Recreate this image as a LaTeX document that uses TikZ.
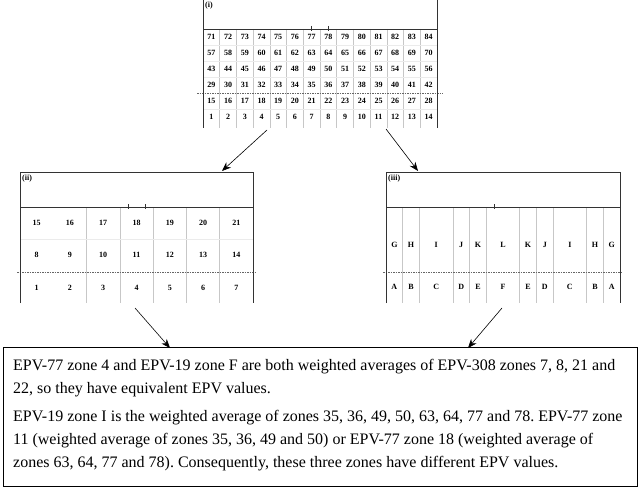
\documentclass[tikz,border=0pt]{standalone}
\usepackage{fontspec}
\setmainfont{Liberation Serif}
\usetikzlibrary{arrows.meta}
\begin{document}
\frenchspacing
\begin{tikzpicture}[x=1pt,y=-1pt,
  border/.style={draw=black!80,line width=0.8pt},
  gridline/.style={draw=black!22,line width=0.7pt},
  rowline/.style={draw=black!8,line width=0.5pt},
  halfway/.style={draw=black!60,line width=0.6pt,dash pattern=on 1.5pt off 1pt},
  cell/.style={font=\bfseries\fontsize{8}{9}\selectfont,inner sep=0pt},
  panellabel/.style={font=\bfseries\fontsize{8}{9}\selectfont,inner sep=0pt,anchor=west},
  arr/.style={-{Stealth[length=9pt,width=7pt]},line width=0.6pt},
  tickmark/.style={draw=black!80,line width=0.6pt}]
\useasboundingbox (0,0) rectangle (640,487);
% ---------- panel (i)
\foreach \k in {1,...,13} \draw[gridline] ({203+\k*234/14},29) -- ({203+\k*234/14},128);
\foreach \r in {45,61,77,109} \draw[rowline] (203,\r) -- (437,\r);
\draw[halfway] (197,93) -- (443,93);
\draw[border] (203,-2) -- (203,128) (437,-2) -- (437,128) (203,29) -- (437,29);
\draw[tickmark] (311.6,26) -- (311.6,31) (328.3,26) -- (328.3,31);
\node[panellabel] (lab1) at (205,6) {(i)};
\foreach \r in {0,...,5}
  \foreach \c in {1,...,14}{
    \pgfmathtruncatemacro\n{(5-\r)*14+\c}
    \node[cell] (z\n) at ({203+(\c-0.5)*234/14},{37+16*\r}) {\n};
  }
% ---------- panel (ii)
\foreach \k in {2,...,6} \draw[gridline] ({20+\k*233/7},207) -- ({20+\k*233/7},303);
\draw[rowline] (20,239) -- (253,239);
\draw[halfway] (17,272) -- (257,272);
\draw[border] (20,303) -- (20,172) -- (253,172) -- (253,303) (20,207) -- (253,207);
\draw[tickmark] (128.2,204) -- (128.2,209) (144.8,204) -- (144.8,209);
\node[panellabel] (lab2) at (22,179) {(ii)};
\foreach \r/\y in {0/223,1/255,2/288}
  \foreach \c in {1,...,7}{
    \pgfmathtruncatemacro\n{(2-\r)*7+\c}
    \node[cell] (w\n) at ({20+(\c-0.5)*233/7},\y) {\n};
  }
% ---------- panel (iii)
\foreach \k in {1,2,4,5,6,8,9,10,12,13} \draw[gridline] ({386+\k*234/14},207) -- ({386+\k*234/14},303);
\draw[halfway] (383,272) -- (623,272);
\draw[border] (386,303) -- (386,172) -- (620,172) -- (620,303) (386,207) -- (620,207);
\draw[tickmark] (494.6,204) -- (494.6,209);
\node[panellabel] (lab3) at (388,179) {(iii)};
\foreach \u/\t/\b [count=\i] in {0.5/G/A,1.5/H/B,3/I/C,4.5/J/D,5.5/K/E,7/L/F,8.5/K/E,9.5/J/D,11/I/C,12.5/H/B,13.5/G/A}{
  \node[cell] (t\i) at ({386+\u*234/14},245) {\t};
  \node[cell] (b\i) at ({386+\u*234/14},287) {\b};
}
% ---------- text box
\draw[line width=0.9pt] (3,347) rectangle (637,486);
\node[anchor=north west,inner sep=0pt,align=left,font=\fontsize{16}{23}\selectfont] (txt) at (13,359)
{EPV-77 zone 4 and EPV-19 zone F are both weighted averages of EPV-308 zones 7, 8, 21 and\\
22, so they have equivalent EPV values.\\[5pt]
EPV-19 zone I is the weighted average of zones 35, 36, 49, 50, 63, 64, 77 and 78. EPV-77 zone\\
11 (weighted average of zones 35, 36, 49 and 50) or EPV-77 zone 18 (weighted average of\\
zones 63, 64, 77 and 78). Consequently, these three zones have different EPV values.};
% ---------- arrows
\coordinate (i-a) at (267,130);
\coordinate (ii-a) at (222,171);
\coordinate (i-b) at (386,129);
\coordinate (iii-a) at (418,171);
\coordinate (ii-b) at (135,308);
\coordinate (box-a) at (170,348);
\coordinate (iii-b) at (502,308);
\coordinate (box-b) at (468,348);
\draw[arr] (i-a) -- (ii-a);
\draw[arr] (i-b) -- (iii-a);
\draw[arr] (ii-b) -- (box-a);
\draw[arr] (iii-b) -- (box-b);
\end{tikzpicture}
\end{document}
